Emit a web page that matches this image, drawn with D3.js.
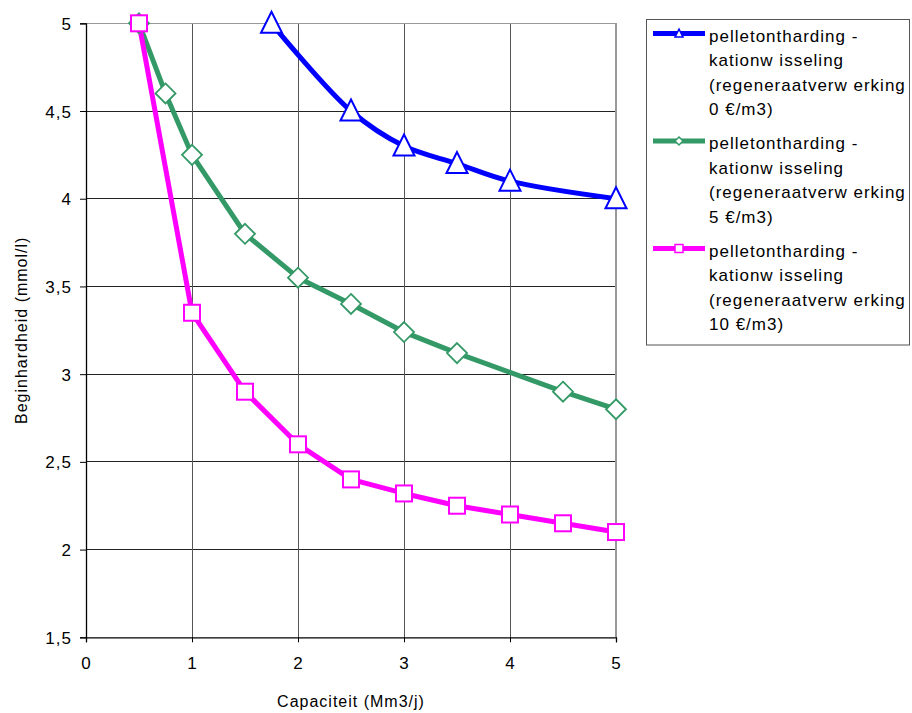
<!DOCTYPE html>
<html>
<head>
<meta charset="utf-8">
<script src="https://cdn.jsdelivr.net/npm/d3@7"></script>
<style>
  html, body { margin: 0; padding: 0; background: #fff; }
  svg text { font-family: "Liberation Sans", Arial, sans-serif; fill: #000; }
</style>
</head>
<body>
<svg id="chart" width="912" height="713"></svg>
<script>
// ---- Data ----
const seriesNames = [
  ["pelletontharding -", "kationw isseling", "(regeneraatverw erking", "0 €/m3)"],
  ["pelletontharding -", "kationw isseling", "(regeneraatverw erking", "5 €/m3)"],
  ["pelletontharding -", "kationw isseling", "(regeneraatverw erking", "10 €/m3)"]
];
const x0 = [1.75, 2.5, 3, 3.5, 4, 5];
const y0 = [5.0, 4.5, 4.3, 4.2, 4.1, 4.0];
const x5 = [0.5, 0.75, 1, 1.5, 2, 2.5, 3, 3.5, 4.5, 5];
const y5 = [5.0, 4.6, 4.25, 3.8, 3.55, 3.4, 3.24, 3.12, 2.9, 2.8];
const x10 = [0.5, 1, 1.5, 2, 2.5, 3, 3.5, 4, 4.5, 5];
const y10 = [5.0, 3.35, 2.9, 2.6, 2.4, 2.32, 2.25, 2.2, 2.15, 2.1];
const xTicks = [0, 1, 2, 3, 4, 5];
const yTicks = [1.5, 2, 2.5, 3, 3.5, 4, 4.5, 5];
const xTitle = "Capaciteit (Mm3/j)";
const yTitle = "Beginhardheid (mmol/l)";

const colors = ["#0000ff", "#339966", "#ff00ff"];
const markers = ["triangle", "diamond", "square"];
const series = [
  { xs: x0, ys: y0 }, { xs: x5, ys: y5 }, { xs: x10, ys: y10 }
];

// ---- Layout ----
const svg = d3.select("#chart");
const L = 86, R = 616, T = 23.3, B = 637.3;
const x = d3.scaleLinear().domain([0, 5]).range([L, R]);
const y = d3.scaleLinear().domain([1.5, 5]).range([B, T]);
const fontSize = 17, ls = "1px";
const titleSize = 16;

// gridlines
const g = svg.append("g");
g.selectAll(".hg").data(yTicks.filter(v => v > 1.5 && v < 5)).enter().append("line")
  .attr("x1", L).attr("x2", R).attr("y1", d => y(d)).attr("y2", d => y(d))
  .attr("stroke", "#222").attr("stroke-width", 1).attr("shape-rendering", "crispEdges");
g.selectAll(".vg").data(xTicks.filter(v => v > 0 && v < 5)).enter().append("line")
  .attr("y1", T).attr("y2", B).attr("x1", d => x(d)).attr("x2", d => x(d))
  .attr("stroke", "#555").attr("stroke-width", 1).attr("shape-rendering", "crispEdges");
// plot border top/right
g.append("path").attr("d", `M${L},${T}H${R}V${B}`).attr("fill", "none")
  .attr("stroke", "#999").attr("stroke-width", 1.2).attr("shape-rendering", "crispEdges");

// axes
const yAxis = d3.axisLeft(y).tickValues(yTicks).tickSize(6).tickPadding(8)
  .tickFormat(d => d3.format(".1~f")(d).replace(".", ","));
const xAxis = d3.axisBottom(x).tickValues(xTicks).tickSize(5).tickPadding(15)
  .tickFormat(d3.format("d"));
const ya = svg.append("g").attr("transform", `translate(${L},0)`).call(yAxis);
const xa = svg.append("g").attr("transform", `translate(0,${B})`).call(xAxis);
[ya, xa].forEach(a => {
  a.select(".domain").attr("stroke", "#000").attr("stroke-width", 1.3);
  a.selectAll(".tick line").attr("stroke", "#000");
  a.selectAll("text").attr("font-size", fontSize).attr("letter-spacing", ls)
    .attr("font-family", "'Liberation Sans', Arial, sans-serif").attr("fill", "#000");
});
ya.selectAll("text").attr("dy", "0.36em");

// titles
svg.append("text").attr("x", (L + R) / 2).attr("y", 707).attr("text-anchor", "middle")
  .attr("font-size", titleSize).attr("letter-spacing", ls).text(xTitle);
svg.append("text").attr("transform", `translate(27,${(T + B) / 2}) rotate(-90)`)
  .attr("text-anchor", "middle").attr("font-size", titleSize).attr("letter-spacing", ls).text(yTitle);

// marker drawing
function drawMarker(sel, type, color, size, sw) {
  if (type === "triangle") {
    const h = size, w = size;
    sel.append("path").attr("d", `M0,${-h * 0.55}L${w / 2},${h * 0.45}L${-w / 2},${h * 0.45}Z`)
      .attr("fill", "#fff").attr("stroke", color).attr("stroke-width", sw);
  } else if (type === "diamond") {
    const s = size / 2;
    sel.append("path").attr("d", `M0,${-s}L${s},0L0,${s}L${-s},0Z`)
      .attr("fill", "#fff").attr("stroke", color).attr("stroke-width", sw);
  } else {
    const s = size / 2;
    sel.append("rect").attr("x", -s).attr("y", -s).attr("width", size).attr("height", size)
      .attr("fill", "#fff").attr("stroke", color).attr("stroke-width", sw);
  }
}

const curves = [d3.curveCatmullRom.alpha(0.5), d3.curveLinear, d3.curveLinear];
const mSizes = [21, 20, 16];
const mSw = [2, 1.8, 2];

series.forEach((s, i) => {
  const pts = s.xs.map((v, j) => [v, s.ys[j]]);
  const line = d3.line().x(d => x(d[0])).y(d => y(d[1])).curve(curves[i]);
  svg.append("path").datum(pts).attr("d", line).attr("fill", "none")
    .attr("stroke", colors[i]).attr("stroke-width", 5).attr("stroke-linejoin", "round");
});
series.forEach((s, i) => {
  const pts = s.xs.map((v, j) => [v, s.ys[j]]);
  pts.forEach(p => {
    const m = svg.append("g").attr("transform", `translate(${x(p[0])},${y(p[1])})`);
    drawMarker(m, markers[i], colors[i], mSizes[i], mSw[i]);
  });
});

// legend
const lg = svg.append("g");
lg.append("rect").attr("x", 646.5).attr("y", 19.5).attr("width", 263).attr("height", 325.5)
  .attr("fill", "#fff").attr("stroke", "#555").attr("stroke-width", 1);
seriesNames.forEach((lines, i) => {
  const base = 41.5 + i * 107.5;
  const ly = base - 8;
  lg.append("line").attr("x1", 653).attr("x2", 705).attr("y1", ly).attr("y2", ly)
    .attr("stroke", colors[i]).attr("stroke-width", 5);
  const m = lg.append("g").attr("transform", `translate(679,${ly})`);
  drawMarker(m, markers[i], colors[i], 8, 1.5);
  lines.forEach((t, k) => {
    lg.append("text").attr("x", 709).attr("y", base + k * 24.5)
      .attr("font-size", fontSize).attr("letter-spacing", ls).text(t);
  });
});
</script>
</body>
</html>
